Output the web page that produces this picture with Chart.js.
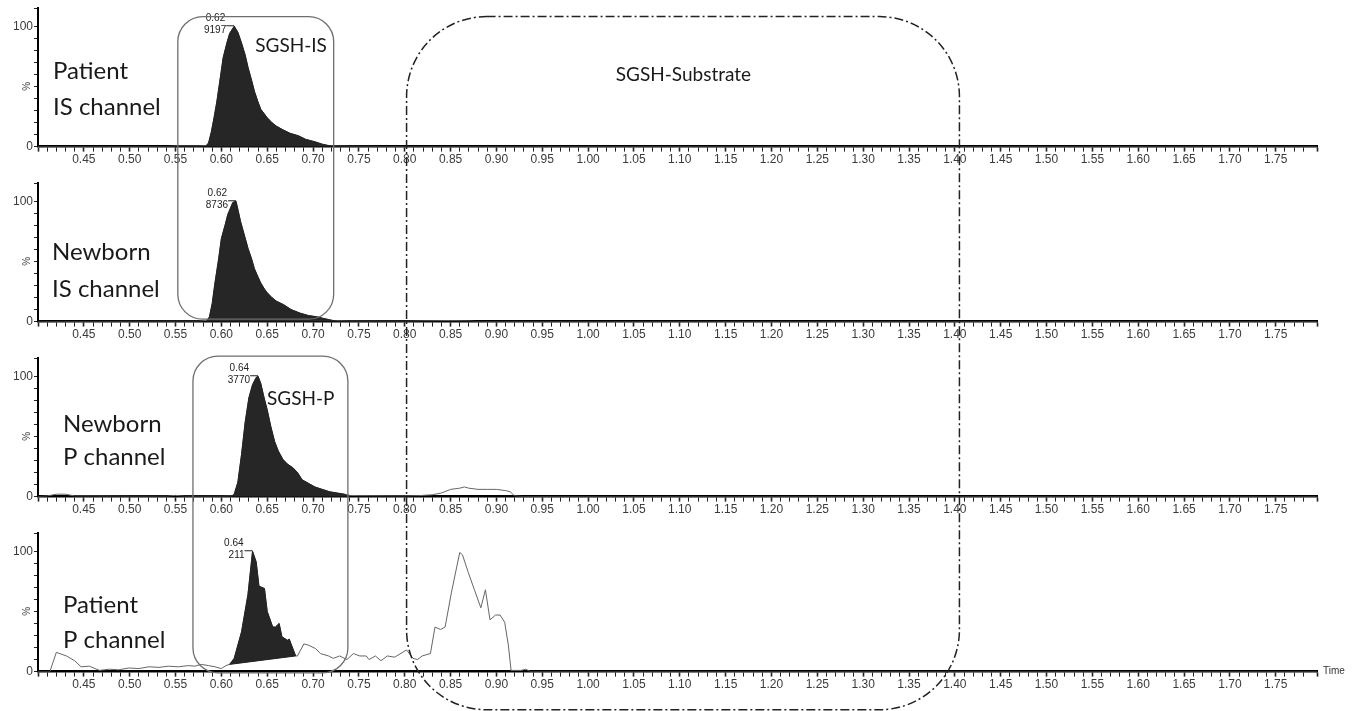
<!DOCTYPE html>
<html>
<head>
<meta charset="utf-8">
<script src="https://cdn.jsdelivr.net/npm/chart.js@4.4.1/dist/chart.umd.min.js"></script>
<style>
html, body { margin: 0; padding: 0; background: #fff; }
#wrap { position: relative; width: 1362px; height: 711px; overflow: hidden; background: #fff; }
#wrap canvas.panel { position: absolute; left: 0; }
#overlay { position: absolute; left: 0; top: 0; pointer-events: none; }
</style>
</head>
<body>
<div id="wrap">
  <canvas class="panel" id="p0" width="1362" height="175" style="top:0px"></canvas>
  <canvas class="panel" id="p1" width="1362" height="175" style="top:175px"></canvas>
  <canvas class="panel" id="p2" width="1362" height="175" style="top:350px"></canvas>
  <canvas class="panel" id="p3" width="1362" height="175" style="top:525px"></canvas>
  <canvas id="overlay" width="1362" height="711"></canvas>
</div>
<script>
// chromatogram traces (% of the panel's base peak)
const panelNames = [["Patient", "IS channel"], ["Newborn", "IS channel"], ["Newborn", "P channel"], ["Patient", "P channel"]];

const time1 = [0.40, 0.54, 0.55, 0.575, 0.583, 0.586, 0.589, 0.592, 0.595, 0.599, 0.602, 0.606, 0.609, 0.614, 0.618, 0.622, 0.626, 0.629, 0.633, 0.636, 0.640, 0.643, 0.647, 0.650, 0.655, 0.660, 0.667, 0.675, 0.684, 0.692, 0.702, 0.710, 0.716, 0.725, 0.74, 0.80, 1.80];
const int1  = [0, 0, 0.5, 0.5, 0.8, 3, 12, 24, 37, 58, 74, 86, 94, 100, 95, 86, 76, 66, 55, 46, 37, 31, 27, 24, 20, 17, 14, 11, 9, 6, 4, 2, 1, 0.5, 0.3, 0, 0];

const time2 = [0.40, 0.55, 0.575, 0.584, 0.587, 0.590, 0.593, 0.597, 0.600, 0.604, 0.607, 0.6125, 0.616, 0.621, 0.625, 0.629, 0.633, 0.636, 0.640, 0.643, 0.647, 0.650, 0.655, 0.660, 0.668, 0.676, 0.686, 0.695, 0.704, 0.712, 0.721, 0.730, 0.74, 0.80, 0.82, 0.85, 0.87, 0.88, 1.80];
const int2  = [0, 0.3, 0.3, 1, 4, 15, 32, 52, 69, 80, 89, 99, 100, 83, 72, 61, 52, 44, 37, 32, 27, 24, 20, 17, 14, 10, 7, 5, 4, 2.5, 1, 0.6, 0.4, 0.3, 0.6, 0.8, 0.5, 0, 0];

const time3 = [0.40, 0.41, 0.42, 0.43, 0.44, 0.45, 0.50, 0.54, 0.55, 0.56, 0.60, 0.611, 0.614, 0.618, 0.622, 0.626, 0.630, 0.634, 0.638, 0.640, 0.643, 0.646, 0.650, 0.654, 0.658, 0.662, 0.667, 0.672, 0.678, 0.683, 0.688, 0.695, 0.702, 0.710, 0.718, 0.726, 0.734, 0.740, 0.75, 0.78, 0.80, 0.815, 0.83, 0.84, 0.85, 0.86, 0.865, 0.87, 0.88, 0.89, 0.90, 0.91, 0.915, 0.92, 0.93, 1.80];
const int3  = [0, 0.5, 2, 2, 0.5, 0.5, 0.3, 0.3, 1, 0.3, 0.3, 0.5, 2, 12, 35, 62, 82, 93, 99, 100, 94, 84, 72, 58, 46, 38, 31, 27, 24, 20, 14, 11, 8, 6, 4, 3, 2, 1, 0.8, 0.6, 0.5, 0.8, 1.5, 3, 6, 7, 8, 7, 6, 6, 6, 5, 4, 0.5, 0, 0];

const time4 = [0.40, 0.413, 0.420, 0.431, 0.440, 0.447, 0.456, 0.467, 0.478, 0.488, 0.499, 0.510, 0.521, 0.532, 0.542, 0.553, 0.564, 0.571, 0.578, 0.586, 0.593, 0.600, 0.605, 0.609, 0.614, 0.622, 0.629, 0.634, 0.638, 0.641, 0.647, 0.650, 0.656, 0.659, 0.663, 0.666, 0.672, 0.674, 0.678, 0.681, 0.683, 0.690, 0.695, 0.703, 0.708, 0.717, 0.722, 0.729, 0.737, 0.744, 0.751, 0.758, 0.761, 0.768, 0.774, 0.781, 0.789, 0.802, 0.809, 0.814, 0.819, 0.828, 0.833, 0.839, 0.844, 0.851, 0.860, 0.863, 0.869, 0.876, 0.883, 0.888, 0.893, 0.899, 0.904, 0.909, 0.913, 0.916, 0.927, 0.932, 0.937, 1.80];
const int4  = [0, 0, 16, 13, 9, 4, 4.5, 1, 2, 1.5, 3, 2.5, 4, 3.5, 4.5, 4, 5, 4.5, 6, 5, 4, 2.5, 5, 6, 11, 33, 64, 100, 91, 71, 69, 50, 37, 37, 40, 29, 26, 27, 19, 13, 13, 23, 22, 19, 15, 13, 11, 13, 10, 15, 13, 13, 10, 13, 9, 13, 12, 18, 11, 10, 13, 15, 37, 35, 37, 66, 99, 97, 83, 68, 53, 68, 43, 47, 47, 41, 22, 1, 1, 2, 0, 0];

// integrated peaks: time window and baseline level at each end
const peakWindow = [[0.583, 0.725], [0.584, 0.730], [0.611, 0.740], [0.609, 0.681]];
const peakBase   = [[0, 0], [0, 0], [0, 0], [6, 13]];
const apexTime   = [0.614, 0.616, 0.640, 0.634];
const apexRT     = ["0.62", "0.62", "0.64", "0.64"];
const apexArea   = ["9197", "8736", "3770", "211"];

const times = [time1, time2, time3, time4];
const ints = [int1, int2, int3, int4];

const PANEL_H = 175;
const tickFont = { family: "'Liberation Sans', Arial, sans-serif", size: 12 };

function tracePoints(k) {
    return times[k].map((t, i) => ({ x: t, y: ints[k][i] }));
}

function peakShape(k) {
    const [t0, t1] = peakWindow[k];
    const [b0, b1] = peakBase[k];
    const pts = [{ x: t0, y: b0 }];
    times[k].forEach((t, i) => {
        if (t > t0 && t < t1) pts.push({ x: t, y: ints[k][i] });
    });
    pts.push({ x: t1, y: b1 });
    pts.push({ x: t0, y: b0 });
    return pts;
}

const charts = [];
for (let k = 0; k < 4; k++) {
    const ctx = document.getElementById("p" + k);
    charts.push(new Chart(ctx, {
        type: "line",
        data: {
            datasets: [
                {
                    data: peakShape(k),
                    borderColor: "#222",
                    borderWidth: 1,
                    backgroundColor: "#262626",
                    fill: "shape",
                    pointRadius: 0,
                    tension: 0
                },
                {
                    data: tracePoints(k),
                    borderColor: "#666",
                    borderWidth: 1,
                    fill: false,
                    pointRadius: 0,
                    tension: 0
                }
            ]
        },
        options: {
            responsive: false,
            animation: false,
            events: [],
            layout: { padding: { left: 0, right: 45, top: 7, bottom: 7 } },
            plugins: { legend: { display: false }, tooltip: { enabled: false } },
            scales: {
                x: {
                    type: "linear",
                    min: 0.40,
                    max: 1.795,
                    ticks: {
                        stepSize: 0.01,
                        autoSkip: false,
                        maxRotation: 0,
                        minRotation: 0,
                        padding: 1,
                        color: "#3a3a3a",
                        font: tickFont,
                        callback: v => {
                            const n = Math.round(v * 100);
                            return (n % 5 === 0 && n > 40 && n < 180) ? (n / 100).toFixed(2) : "";
                        }
                    },
                    grid: {
                        drawOnChartArea: false,
                        drawTicks: true,
                        tickLength: 5,
                        tickColor: "#222",
                        tickWidth: c => (c.tick && Math.round(c.tick.value * 100) % 5 === 0) ? 1.6 : 1
                    },
                    border: { color: "#000", width: 2.5 }
                },
                y: {
                    min: 0,
                    max: 115,
                    afterFit: s => { s.width = 38; },
                    ticks: {
                        stepSize: 10,
                        autoSkip: false,
                        padding: 1,
                        color: "#3a3a3a",
                        font: tickFont,
                        callback: v => (v === 0 || v === 100) ? String(v) : ""
                    },
                    grid: { drawOnChartArea: false, tickLength: 4, tickColor: "#222" },
                    border: { color: "#000", width: 2 }
                }
            }
        }
    }));
}

// annotations drawn over all four panels, positioned through the chart scales
const X = t => charts[0].scales.x.getPixelForValue(t);
const Y = (k, v) => PANEL_H * k + charts[k].scales.y.getPixelForValue(v);

function roundBox(g, x0, y0, x1, y1, r) {
    g.beginPath();
    g.moveTo(x0 + r, y0);
    g.lineTo(x1 - r, y0);
    g.arcTo(x1, y0, x1, y0 + r, r);
    g.lineTo(x1, y1 - r);
    g.arcTo(x1, y1, x1 - r, y1, r);
    g.lineTo(x0 + r, y1);
    g.arcTo(x0, y1, x0, y1 - r, r);
    g.lineTo(x0, y0 + r);
    g.arcTo(x0, y0, x0 + r, y0, r);
    g.closePath();
    g.stroke();
}

const ov = document.getElementById("overlay").getContext("2d");

// panel names
const namePos = [[53, 79, 115], [52, 85, 122], [63, 82, 115], [63, 88, 123]];
ov.fillStyle = "#1a1a1a";
ov.font = "24px Lato, 'Open Sans', sans-serif";
ov.textAlign = "left";
ov.textBaseline = "alphabetic";
for (let k = 0; k < 4; k++) {
    const [px, b1, b2] = namePos[k];
    ov.fillText(panelNames[k][0], px, PANEL_H * k + b1);
    ov.fillText(panelNames[k][1], px, PANEL_H * k + b2);
}

// "%" on each y axis, apex labels
for (let k = 0; k < 4; k++) {
    ov.save();
    ov.translate(27, Y(k, 50));
    ov.rotate(-Math.PI / 2);
    ov.font = "10px 'Liberation Sans', Arial, sans-serif";
    ov.fillStyle = "#444";
    ov.textAlign = "center";
    ov.textBaseline = "middle";
    ov.fillText("%", 0, 0);
    ov.restore();

    const ax = X(apexTime[k]);
    const ay = Y(k, 100);
    ov.strokeStyle = "#222";
    ov.lineWidth = 1;
    ov.setLineDash([]);
    ov.beginPath();
    ov.moveTo(ax - 8, ay - 0.5);
    ov.lineTo(ax, ay - 0.5);
    ov.stroke();
    ov.font = "10px 'Liberation Sans', Arial, sans-serif";
    ov.fillStyle = "#222";
    ov.textAlign = "right";
    ov.textBaseline = "middle";
    ov.fillText(apexRT[k], ax - 9, ay - 8);
    ov.fillText(apexArea[k], ax - 8, ay + 4);
}

// peak boxes
ov.strokeStyle = "#6e6e6e";
ov.lineWidth = 1.3;
ov.setLineDash([]);
roundBox(ov, X(0.5525), Y(0, 108), X(0.7225), Y(1, 2), 25);
roundBox(ov, X(0.569), Y(2, 116.7), X(0.738), Y(3, -1), 25);

ov.strokeStyle = "#222";
ov.lineWidth = 1.5;
ov.setLineDash([9, 3, 2, 3]);
roundBox(ov, X(0.802), Y(0, 108), X(1.405), Y(3, -31.7), 80);
ov.setLineDash([]);

// box captions
ov.fillStyle = "#1a1a1a";
ov.font = "19px Lato, 'Open Sans', sans-serif";
ov.textAlign = "center";
ov.textBaseline = "middle";
ov.fillText("SGSH-IS", X(0.676), Y(0, 84));
ov.fillText("SGSH-P", X(0.6865), Y(2, 81));
ov.fillText("SGSH-Substrate", X(1.104), Y(0, 60));

// axis title at the end of the bottom time axis
ov.font = "10px 'Liberation Sans', Arial, sans-serif";
ov.fillStyle = "#333";
ov.textAlign = "left";
ov.fillText("Time", charts[3].chartArea.right + 6, Y(3, 0));
</script>
</body>
</html>
